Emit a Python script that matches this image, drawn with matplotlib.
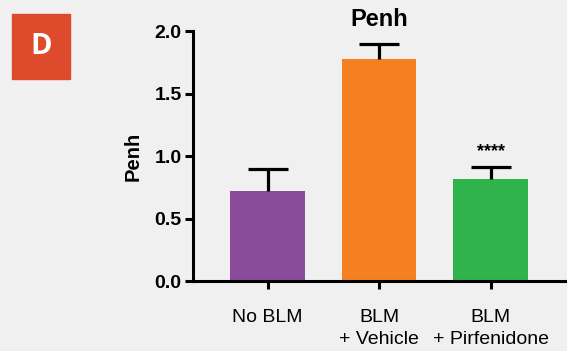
import matplotlib.pyplot as plt
from matplotlib.patches import Rectangle

# Data
groups = ["No BLM", "BLM\n+ Vehicle", "BLM\n+ Pirfenidone"]
means = [0.72, 1.775, 0.815]
errs = [0.175, 0.12, 0.097]
colors = ["#8a4b9a", "#f58021", "#31b34b"]
sig = ["", "", "****"]

bg = "#f0f0f0"
plt.rcParams['font.family'] = ['Liberation Sans', 'DejaVu Sans']

fig = plt.figure(figsize=(5.67, 3.51), dpi=100)
fig.patch.set_facecolor(bg)
ax = fig.add_axes([0.340, 0.199, 0.657, 0.712])
ax.set_facecolor(bg)

x = list(range(len(groups)))
tops = [m + e for m, e in zip(means, errs)]
ax.bar(x, means, width=0.67, color=colors, zorder=2)
# upper-only error bars: stem + cap
ax.vlines(x, means, tops, color='black', lw=2.3, zorder=3)
ax.plot(x, tops, ls='none', marker='_', ms=29, mew=2.3, color='black', zorder=3)
for xi, t, s in zip(x, tops, sig):
    if s:
        ax.text(xi, t + 0.06, s, ha='center', va='bottom', fontsize=13, fontweight='bold')

ax.set_xlim(-0.67, 2.67)
ax.set_ylim(0, 2.0)
ax.set_yticks([0, 0.5, 1.0, 1.5, 2.0])
ax.set_yticklabels(["0.0", "0.5", "1.0", "1.5", "2.0"], fontweight='bold', fontsize=14)
ax.set_xticks(x)
ax.set_xticklabels(groups, fontsize=14, linespacing=1.4)
ax.tick_params(axis='both', width=2.2, length=6, direction='out')
ax.tick_params(axis='x', pad=14)
ax.tick_params(axis='y', pad=2)

for sp in ['top', 'right']:
    ax.spines[sp].set_visible(False)
for sp in ['left', 'bottom']:
    ax.spines[sp].set_linewidth(2.2)

ax.set_ylabel("Penh", fontweight='bold', fontsize=14.5)
ax.yaxis.set_label_coords(-0.135, 0.5)
ax.set_title("Penh", fontweight='bold', fontsize=17, pad=1)

# panel letter badge
fig.patches.append(Rectangle((12 / 567, 1 - 79 / 351), 58 / 567, 65 / 351,
                             transform=fig.transFigure, color="#dd4a2c", zorder=5))
fig.text(41 / 567, 1 - 46.5 / 351, "D", color='white', fontsize=21, fontweight='bold',
         ha='center', va='center', family=['Open Sans', 'DejaVu Sans'], zorder=6)

fig.savefig('out.png', dpi=100, facecolor=bg)
